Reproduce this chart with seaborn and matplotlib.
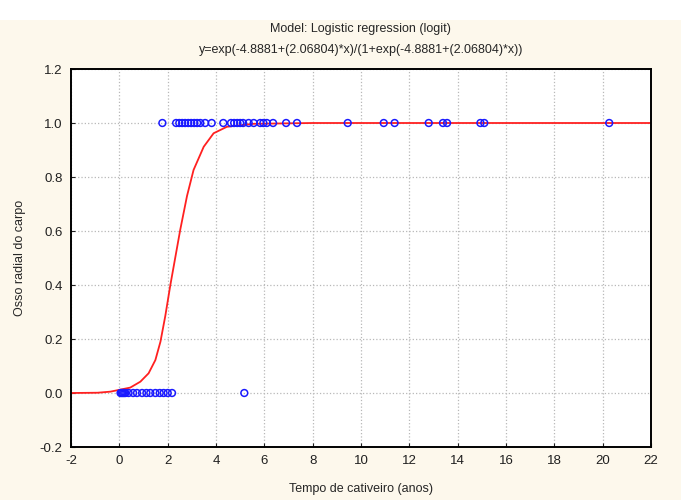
"""
    Logistic regression plot: radial carpal bone vs. time in captivity.
"""

import matplotlib
matplotlib.use("Agg")
import matplotlib.pyplot as plt
import matplotlib.patches as mpatches
import matplotlib.ticker as mtick
import seaborn as sns

x_ones = [1.78, 2.35, 2.48, 2.60, 2.72, 2.85, 2.97, 3.10, 3.22, 3.35, 3.55, 3.82,
          4.30, 4.62, 4.75, 4.88, 5.00, 5.12, 5.35, 5.56, 5.83, 5.96, 6.10, 6.36,
          6.90, 7.35, 9.45, 10.94, 11.39, 12.80, 13.39, 13.56, 14.94, 15.10, 20.27]
x_zeros = [0.05, 0.10, 0.15, 0.20, 0.25, 0.38, 0.57, 0.73, 0.94, 1.12, 1.28,
           1.49, 1.67, 1.83, 2.00, 2.18, 5.17]

# Fitted curve
curve_x = [-2.0, -0.9, -0.37, 0.45, 0.87, 1.21, 1.49, 1.70, 1.90, 2.11, 2.32,
           2.52, 2.80, 3.07, 3.49, 3.90, 4.45, 5.55, 8.0, 22.0]
curve_y = [0.0, 0.001, 0.005, 0.02, 0.042, 0.073, 0.122, 0.19, 0.285, 0.40, 0.505,
           0.605, 0.73, 0.826, 0.912, 0.962, 0.986, 0.997, 1.0, 1.0]

title_lines = ["Model: Logistic regression (logit)",
               "y=exp(-4.8881+(2.06804)*x)/(1+exp(-4.8881+(2.06804)*x))"]

BG = '#fdf8ec'

sns.set_style("ticks")
plt.rcParams['font.family'] = ['Liberation Sans', 'DejaVu Sans']
plt.rcParams['axes.unicode_minus'] = False

fig = plt.figure(figsize=(6.81, 5.0), dpi=100, facecolor='white')
fig.patches.append(mpatches.Rectangle((0, 0), 1, 0.96, transform=fig.transFigure,
                                      facecolor=BG, edgecolor='none', zorder=-10))
ax = fig.add_axes([0.1043, 0.106, 0.8517, 0.756])
ax.set_facecolor('white')

sns.lineplot(x=curve_x, y=curve_y, color='#ff2020', linewidth=1.3, ax=ax,
             estimator=None, sort=False, zorder=2)
sns.scatterplot(x=x_ones + x_zeros, y=[1.0] * len(x_ones) + [0.0] * len(x_zeros),
                marker='o', s=24, facecolors='none', edgecolor='#1a1aff',
                linewidth=1.1, ax=ax, zorder=3)

ax.set_xlim(-2, 22)
ax.set_ylim(-0.2, 1.2)
ax.set_xticks(range(-2, 23, 2))
ax.set_yticks([-0.2, 0.0, 0.2, 0.4, 0.6, 0.8, 1.0, 1.2])
ax.yaxis.set_major_formatter(mtick.FormatStrFormatter('%.1f'))
ax.grid(True, linestyle=':', color='#b8b8b8', linewidth=0.9)
ax.tick_params(direction='in', length=3, width=0.8, labelsize=9.5, colors='#202020', pad=6)

for sp in ax.spines.values():
    sp.set_visible(True)
    sp.set_color('black')
    sp.set_linewidth(1.4)

ax.set_xlabel('Tempo de cativeiro (anos)', fontsize=9, labelpad=11)
ax.set_ylabel('Osso radial do carpo', fontsize=9, labelpad=10)

fig.text(0.53, 0.942, title_lines[0], ha='center', va='center', fontsize=9)
fig.text(0.53, 0.901, title_lines[1], ha='center', va='center', fontsize=9)

fig.savefig('out.png', dpi=100, facecolor=fig.get_facecolor())
